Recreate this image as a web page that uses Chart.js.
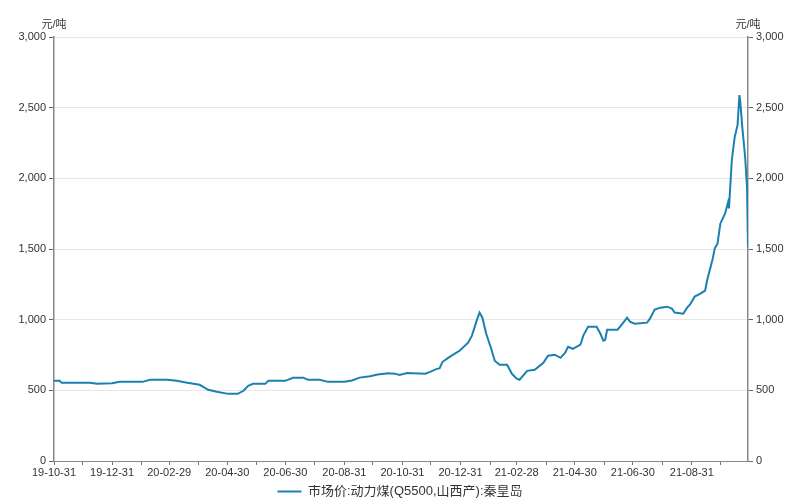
<!DOCTYPE html>
<html>
<head>
<meta charset="utf-8">
<script src="https://cdn.jsdelivr.net/npm/chart.js@4.4.1/dist/chart.umd.min.js"></script>
<style>
  html, body { margin: 0; padding: 0; background: #fff; }
  #wrap { width: 800px; height: 500px; }
</style>
</head>
<body>
<div id="wrap"><canvas id="coal-chart" width="800" height="500"></canvas></div>
<script>
(function() {
  // --data
  var seriesName = '市场价:动力煤(Q5500,山西产):秦皇岛';
  var unit = '元/吨';
  var dates = [
    '2019-10-31','2019-11-06','2019-11-08','2019-12-08','2019-12-15','2019-12-31',
    '2020-01-08','2020-02-01','2020-02-09','2020-02-27','2020-03-08','2020-03-19',
    '2020-04-01','2020-04-10','2020-04-19','2020-05-01','2020-05-11','2020-05-17',
    '2020-05-22','2020-05-27','2020-06-09','2020-06-12','2020-06-30','2020-07-08',
    '2020-07-19','2020-07-24','2020-08-05','2020-08-14','2020-08-31','2020-09-08',
    '2020-09-16','2020-09-27','2020-10-05','2020-10-16','2020-10-23','2020-10-28',
    '2020-11-05','2020-11-24','2020-11-29','2020-12-06','2020-12-09','2020-12-12',
    '2020-12-18','2020-12-25','2020-12-30','2021-01-08','2021-01-12','2021-01-17',
    '2021-01-20','2021-01-23','2021-01-27','2021-02-01','2021-02-05','2021-02-10',
    '2021-02-18','2021-02-23','2021-02-28','2021-03-03','2021-03-11','2021-03-19',
    '2021-03-28','2021-04-02','2021-04-09','2021-04-15','2021-04-20','2021-04-23',
    '2021-04-28','2021-05-06','2021-05-09','2021-05-14','2021-05-23','2021-05-27',
    '2021-05-30','2021-06-01','2021-06-03','2021-06-14','2021-06-19','2021-06-24',
    '2021-06-27','2021-07-02','2021-07-15','2021-07-18','2021-07-23','2021-07-29',
    '2021-08-05','2021-08-10','2021-08-13','2021-08-22','2021-08-26','2021-08-29',
    '2021-09-03','2021-09-09','2021-09-14','2021-09-16','2021-09-22','2021-09-24',
    '2021-09-27','2021-09-30','2021-10-05','2021-10-08','2021-10-09','2021-10-12',
    '2021-10-15','2021-10-18','2021-10-20','2021-10-21','2021-10-23','2021-10-26',
    '2021-10-28','2021-10-29'
  ];
  var prices = [
    567, 567, 553, 553, 546, 550,
    560, 560, 574, 574, 567, 553,
    539, 504, 490, 475, 475, 497,
    532, 546, 546, 567, 567, 589,
    589, 574, 574, 560, 560, 570,
    590, 600, 612, 620, 618, 608,
    622, 617, 631, 652, 655, 700,
    730, 760, 780, 837, 887, 993,
    1050, 1014, 900, 800, 709, 681,
    681, 617, 582, 575, 638, 645,
    695, 745, 752, 730, 766, 808,
    794, 823, 887, 950, 950, 900,
    851, 858, 929, 929, 971, 1014,
    986, 971, 979, 1007, 1071, 1085,
    1092, 1078, 1050, 1042, 1085, 1106,
    1163, 1184, 1206, 1277, 1433, 1503,
    1539, 1681, 1752, 1830, 1787, 2128,
    2291, 2376, 2589, 2532, 2362, 2149,
    1936, 1511
  ];
  // month ends; every second one carries a label
  var xTicks = [
    '19-10-31','19-11-30','19-12-31','20-01-31','20-02-29','20-03-31','20-04-30',
    '20-05-31','20-06-30','20-07-31','20-08-31','20-09-30','20-10-31','20-11-30',
    '20-12-31','21-01-31','21-02-28','21-03-31','21-04-30','21-05-31','21-06-30',
    '21-07-31','21-08-31','21-09-30'
  ];
  var yTicks = [0, 500, 1000, 1500, 2000, 2500, 3000];

  var DAY = 86400000;
  var origin = Date.UTC(2019, 9, 31);
  function toDay(str) {
    var p = str.split('-');
    var y = +p[0]; if(y < 100) y += 2000;
    return Math.round((Date.UTC(y, +p[1] - 1, +p[2]) - origin) / DAY);
  }
  var points = dates.map(function(d, i) { return {x: toDay(d), y: prices[i]}; });
  var tickDays = xTicks.map(toDay);

  var font = "'Liberation Sans', Arial, 'Noto Sans CJK SC', sans-serif";
  Chart.defaults.font.family = font;
  Chart.defaults.color = '#333';

  var unitLabels = {
    id: 'unitLabels',
    afterDraw: function(chart) {
      var ctx = chart.ctx, area = chart.chartArea;
      ctx.save();
      ctx.font = "11px " + font;
      ctx.fillStyle = '#333';
      ctx.textAlign = 'center';
      ctx.textBaseline = 'middle';
      ctx.fillText(unit, area.left, 25);
      ctx.fillText(unit, area.right, 25);
      ctx.restore();
    }
  };

  new Chart(document.getElementById('coal-chart'), {
    type: 'line',
    data: {
      datasets: [{
        label: seriesName,
        data: points,
        borderColor: '#1b80b1',
        backgroundColor: '#1b80b1',
        borderWidth: 2,
        pointRadius: 0,
        tension: 0,
        pointStyle: 'line'
      }]
    },
    options: {
      responsive: false,
      animation: false,
      devicePixelRatio: 1,
      layout: { padding: { top: 37, left: 0, right: 0, bottom: -8 } },
      plugins: {
        legend: {
          position: 'bottom',
          labels: {
            usePointStyle: true,
            pointStyleWidth: 24,
            boxHeight: 10,
            padding: 0,
            color: '#333',
            font: { size: 13 }
          }
        },
        tooltip: { enabled: false }
      },
      scales: {
        x: {
          type: 'linear',
          min: 0,
          max: points[points.length - 1].x,
          afterBuildTicks: function(scale) {
            scale.ticks = tickDays.map(function(v) { return {value: v}; });
          },
          afterFit: function(scale) { scale.height = 24; },
          ticks: {
            autoSkip: false,
            maxRotation: 0,
            padding: 1,
            font: { size: 11 },
            color: '#333',
            callback: function(value, index) {
              return index % 2 === 0 ? xTicks[index] : '';
            }
          },
          grid: { drawOnChartArea: false, tickLength: 4, tickColor: '#777' },
          border: { color: '#888', width: 1 }
        },
        y: {
          position: 'left',
          min: 0,
          max: 3000,
          afterBuildTicks: function(scale) {
            scale.ticks = yTicks.map(function(v) { return {value: v}; });
          },
          afterFit: function(scale) { scale.width = 54; },
          ticks: {
            padding: 3,
            font: { size: 11 },
            color: '#333',
            callback: function(v) { return v.toLocaleString('en-US'); }
          },
          grid: { color: '#e6e6e6', tickLength: 5, tickColor: '#666' },
          border: { color: '#888', width: 1.5 }
        },
        y2: {
          position: 'right',
          min: 0,
          max: 3000,
          afterBuildTicks: function(scale) {
            scale.ticks = yTicks.map(function(v) { return {value: v}; });
          },
          afterFit: function(scale) { scale.width = 52; },
          ticks: {
            padding: 3,
            font: { size: 11 },
            color: '#333',
            callback: function(v) { return v.toLocaleString('en-US'); }
          },
          grid: { drawOnChartArea: false, tickLength: 5, tickColor: '#666' },
          border: { color: '#888', width: 1.5 }
        }
      }
    },
    plugins: [unitLabels]
  });
}());
</script>
</body>
</html>
